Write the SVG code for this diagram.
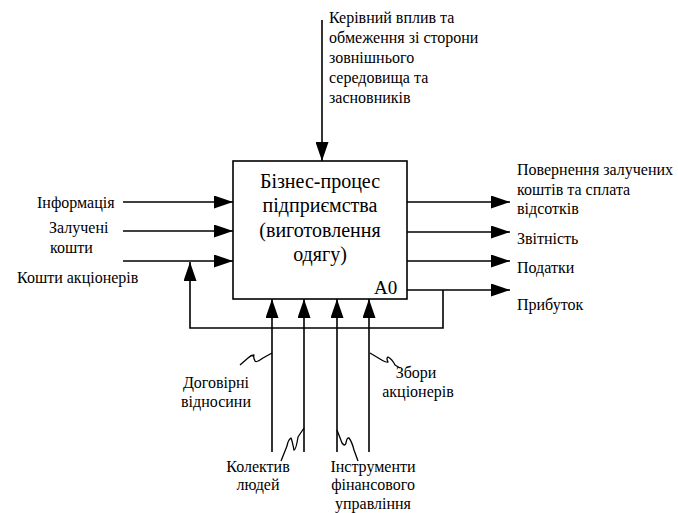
<svg xmlns="http://www.w3.org/2000/svg" width="678" height="513" viewBox="0 0 678 513">
<style>
text{font-family:'Liberation Serif','Times New Roman',serif;fill:#000;font-size:16px}
.big{font-size:20px}
.a0{font-size:19px}
.ln{fill:none;stroke:#000;stroke-width:1.6}
.sq{fill:none;stroke:#000;stroke-width:1.3;stroke-linejoin:round}
</style>
<defs>
<marker id="ah" markerUnits="userSpaceOnUse" markerWidth="19" markerHeight="13" refX="19" refY="6.5" orient="auto" viewBox="0 0 19 13">
<path d="M0,0 L19,6.5 L0,13 z" fill="#000"/>
</marker>
</defs>
<rect width="678" height="513" fill="#fff"/>
<g id="A0">
<rect x="233" y="161" width="174" height="138" class="ln"/>
<text class="big" x="320" y="188" text-anchor="middle">Бізнес-процес</text>
<text class="big" x="320" y="212" text-anchor="middle">підприємства</text>
<text class="big" x="320" y="237" text-anchor="middle">(виготовлення</text>
<text class="big" x="320" y="261" text-anchor="middle">одягу)</text>
<text class="a0" x="374" y="294">A0</text>
</g>
<g id="connectors">
<line class="ln" x1="322" y1="20" x2="322" y2="161" marker-end="url(#ah)"/>
<line class="ln" x1="123" y1="202" x2="233" y2="202" marker-end="url(#ah)"/>
<line class="ln" x1="123" y1="231" x2="233" y2="231" marker-end="url(#ah)"/>
<line class="ln" x1="123" y1="261" x2="233" y2="261" marker-end="url(#ah)"/>
<line class="ln" x1="407" y1="202" x2="510" y2="202" marker-end="url(#ah)"/>
<line class="ln" x1="407" y1="232" x2="510" y2="232" marker-end="url(#ah)"/>
<line class="ln" x1="407" y1="261" x2="510" y2="261" marker-end="url(#ah)"/>
<line class="ln" x1="407" y1="290" x2="510" y2="290" marker-end="url(#ah)"/>
<polyline class="ln" points="443,290 443,328 190,328 190,262" marker-end="url(#ah)"/>
<line class="ln" x1="272" y1="452" x2="272" y2="299" marker-end="url(#ah)"/>
<line class="ln" x1="304" y1="452" x2="304" y2="299" marker-end="url(#ah)"/>
<line class="ln" x1="337" y1="452" x2="337" y2="299" marker-end="url(#ah)"/>
<line class="ln" x1="369" y1="452" x2="369" y2="299" marker-end="url(#ah)"/>
<path class="sq" d="M272,353 L263,358 Q256,363 255,361 Q253,357 254,355 Q251,355 248,358 L240,365"/>
<path class="sq" d="M370,353 L380,359 Q387,363 388,362 Q386,358 388,357 Q392,359 395,365 L400,368"/>
<path class="sq" d="M304,428 L298,437 Q296,450 294,450 Q292,440 291,438 Q288,440 287,446 L281,461"/>
<path class="sq" d="M337,430 L342,443 Q345,447 346,443 Q347,437 349,438 Q352,442 354,450 L358,461"/>
</g>
<g id="labels">
<text x="329" y="23">Керівний вплив та</text>
<text x="329" y="43">обмеження зі сторони</text>
<text x="329" y="63">зовнішнього</text>
<text x="329" y="83">середовища та</text>
<text x="329" y="103">засновників</text>
<text x="37" y="208">Інформація</text>
<text x="49" y="233">Залучені</text>
<text x="50" y="253">кошти</text>
<text x="17" y="283">Кошти акціонерів</text>
<text x="517" y="175">Повернення залучених</text>
<text x="517" y="195">коштів та сплата</text>
<text x="517" y="214">відсотків</text>
<text x="517" y="244">Звітність</text>
<text x="517" y="273">Податки</text>
<text x="517" y="310">Прибуток</text>
<text x="216" y="388" text-anchor="middle">Договірні</text>
<text x="216" y="407" text-anchor="middle">відносини</text>
<text x="416" y="378" text-anchor="middle">Збори</text>
<text x="418" y="397" text-anchor="middle">акціонерів</text>
<text x="258" y="472" text-anchor="middle">Колектив</text>
<text x="258" y="490" text-anchor="middle">людей</text>
<text x="373" y="472" text-anchor="middle">Інструменти</text>
<text x="373" y="490" text-anchor="middle">фінансового</text>
<text x="373" y="509" text-anchor="middle">управління</text>
</g>
</svg>
